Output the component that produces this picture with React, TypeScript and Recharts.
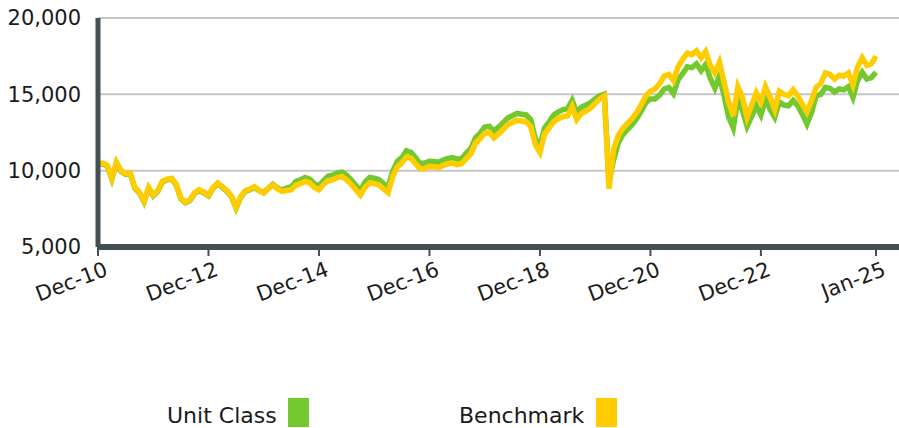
import { LineChart, Line, XAxis, YAxis, CartesianGrid } from 'recharts';

// Growth of 10,000, monthly from Dec-10 (index 0) to Jan-25 (index 169)
const unitClass = [
  10400, 10450, 10300, 9450, 10500, 9950, 9750, 9800, 8850, 8550,
  7950, 8850, 8350, 8650, 9250, 9400, 9450, 9050, 8150, 7900,
  8050, 8500, 8700, 8550, 8350, 8850, 9150, 8900, 8650, 8300,
  7550, 8250, 8650, 8750, 8900, 8700, 8550, 8850, 9100, 8850,
  8750, 8850, 8950, 9300, 9400, 9550, 9450, 9150, 9000, 9350,
  9650, 9700, 9850, 9900, 9700, 9400, 9050, 8700, 9250, 9550,
  9500, 9420, 9150, 8900, 9950, 10600, 10850, 11300, 11200, 10850,
  10450, 10500, 10620, 10600, 10550, 10700, 10800, 10850, 10750, 10800,
  11150, 11450, 12150, 12450, 12850, 12900, 12600, 12850, 13150, 13450,
  13600, 13750, 13700, 13650, 13350, 12100, 11600, 12800, 13200, 13650,
  13850, 14000, 14050, 14600, 13800, 14150, 14300, 14450, 14700, 14900,
  15000, 9300, 10700, 11800, 12350, 12700, 13000, 13400, 13900, 14450,
  14700, 14700, 14950, 15350, 15450, 15050, 15950, 16350, 16800, 16750,
  17000, 16550, 16950, 16050, 15400, 16200, 14900, 13500, 12800, 14650,
  13950, 12900, 13550, 14250, 13650, 14700, 14000, 13500, 14500, 14300,
  14250, 14600, 14250, 13700, 13050, 13800, 14900, 15000, 15450, 15400,
  15150, 15350, 15300, 15500, 14800, 15900, 16450, 16000, 16100, 16450
];

const benchmark = [
  10450, 10500, 10350, 9500, 10550, 10000, 9800, 9850, 8900, 8600,
  8000, 8900, 8400, 8700, 9300, 9450, 9500, 9100, 8200, 7950,
  8100, 8550, 8750, 8600, 8400, 8900, 9200, 8950, 8700, 8350,
  7600, 8300, 8700, 8800, 8950, 8700, 8550, 8850, 9050, 8800,
  8650, 8700, 8750, 9050, 9150, 9300, 9200, 8900, 8750, 9100,
  9350, 9400, 9550, 9620, 9400, 9100, 8750, 8400, 8900, 9200,
  9150, 9080, 8800, 8550, 9600, 10250, 10500, 10900, 10800, 10450,
  10100, 10150, 10280, 10250, 10200, 10350, 10450, 10500, 10400, 10450,
  10800, 11100, 11800, 12100, 12450, 12500, 12150, 12400, 12700, 13000,
  13150, 13300, 13250, 13200, 12900, 11700, 11200, 12400, 12800, 13200,
  13400, 13550, 13600, 14200, 13350, 13750, 13900, 14100, 14400, 14700,
  14900, 8800, 11400, 12300, 12750, 13100, 13400, 13800, 14300, 14900,
  15200, 15350, 15700, 16200, 16300, 15900, 16800, 17300, 17700, 17600,
  17850, 17400, 17800, 16900, 16400, 17100, 15800, 14500, 13600, 15500,
  14800, 13500, 14300, 15100, 14500, 15500, 14800, 14000, 15200, 15000,
  14900, 15300, 14900, 14350, 13850, 14600, 15450, 15700, 16400, 16300,
  16000, 16250, 16200, 16400, 15600, 16800, 17400, 16900, 17000, 17500
];

const tickMonths = [0, 24, 48, 72, 96, 120, 144, 169];
const tickLabels = ['Dec-10', 'Dec-12', 'Dec-14', 'Dec-16', 'Dec-18', 'Dec-20', 'Dec-22', 'Jan-25'];
const yTicks = [5000, 10000, 15000, 20000];

const data = unitClass.map((v, i) => ({ m: i, unit: v, bench: benchmark[i] }));

const FONT = '"DejaVu Sans", sans-serif';
const AXIS = '#434f51';

function RotatedTick(props: any) {
  const { x, y, payload } = props;
  const idx = tickMonths.indexOf(payload.value);
  return (
    <g transform={`translate(${x + 11},${y + 17})`}>
      <text textAnchor="end" transform="rotate(-21)" fontSize={21} fontFamily={FONT} fill="#1a1a1a">
        {tickLabels[idx]}
      </text>
    </g>
  );
}

export default function App() {
  return (
    <div style={{ position: 'absolute', left: 0, top: 0, width: 899, height: 428, background: '#fff' }}>
      <LineChart width={899} height={428} data={data} margin={{ top: 18, right: 0, bottom: 121, left: 0 }}>
        <CartesianGrid vertical={false} stroke="#c6c6c6" strokeWidth={2} />
        <XAxis
          dataKey="m"
          type="number"
          domain={[0, 174]}
          ticks={tickMonths}
          interval={0}
          height={60}
          axisLine={{ stroke: AXIS, strokeWidth: 6 }}
          tickLine={{ stroke: AXIS, strokeWidth: 2 }}
          tickSize={9}
          tick={<RotatedTick />}
        />
        <YAxis
          type="number"
          domain={[5000, 20000]}
          ticks={yTicks}
          width={98}
          axisLine={{ stroke: AXIS, strokeWidth: 5 }}
          tickLine={false}
          tickMargin={11}
          tickFormatter={(v: number) => v.toLocaleString('en-US')}
          tick={{ fontSize: 21, fontFamily: FONT, fill: '#1a1a1a' }}
        />
        <Line type="linear" dataKey="unit" stroke="#74c82f" strokeWidth={5.5} dot={false} isAnimationActive={false} />
        <Line type="linear" dataKey="bench" stroke="#ffcc00" strokeWidth={5.5} dot={false} isAnimationActive={false} />
      </LineChart>
      <div style={{ position: 'absolute', left: 167, top: 403, fontSize: 22, lineHeight: '26px', fontFamily: FONT, color: '#1a1a1a' }}>
        Unit Class
      </div>
      <div style={{ position: 'absolute', left: 288, top: 398, width: 21, height: 29, background: '#74c82f' }} />
      <div style={{ position: 'absolute', left: 459, top: 403, fontSize: 22, lineHeight: '26px', fontFamily: FONT, color: '#1a1a1a' }}>
        Benchmark
      </div>
      <div style={{ position: 'absolute', left: 596, top: 398, width: 21, height: 29, background: '#ffcc00' }} />
    </div>
  );
}
